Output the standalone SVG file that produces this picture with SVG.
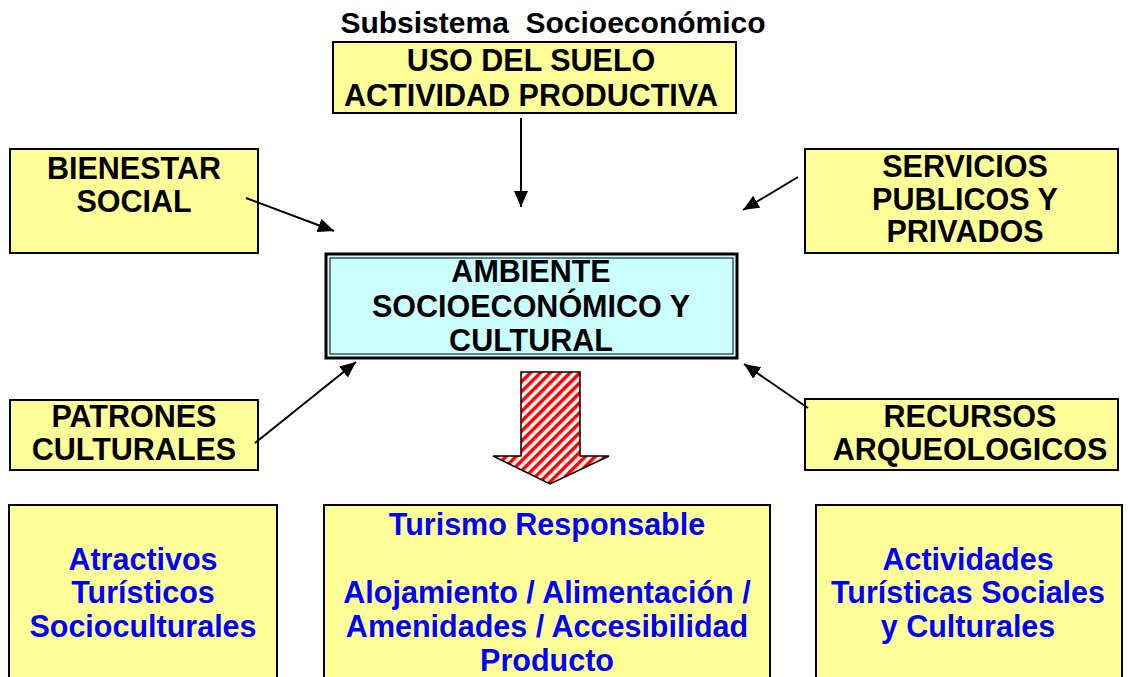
<svg xmlns="http://www.w3.org/2000/svg" width="1128" height="677" viewBox="0 0 1128 677">
<style>
  .box { fill: #FFFF99; stroke: #000; stroke-width: 2; }
  .t { font-family: "Liberation Sans", Arial, sans-serif; font-weight: bold; font-size: 30.5px; text-anchor: middle; fill: #000; }
  .b { fill: #0000FF; }
  .conn line { stroke: #000; stroke-width: 2; }
</style>
<defs>
  <marker id="ah" markerUnits="userSpaceOnUse" markerWidth="18" markerHeight="14" refX="16" refY="7" orient="auto">
    <path d="M0,0 L16,7 L0,14 Z" fill="#000"/>
  </marker>
  <pattern id="stripes" patternUnits="userSpaceOnUse" width="7" height="7" patternTransform="rotate(45)">
    <rect x="0" y="0" width="7" height="7" fill="#fff"/>
    <rect x="0" y="0" width="3.5" height="7" fill="#FF0000"/>
  </pattern>
</defs>

<text class="t" x="553" y="33" style="font-size:30px; white-space:pre" xml:space="preserve">Subsistema  Socioeconómico</text>

<g id="uso">
  <rect class="box" x="333" y="42" width="403" height="71"/>
  <text class="t" x="531" y="71">USO DEL SUELO</text>
  <text class="t" x="531" y="106">ACTIVIDAD PRODUCTIVA</text>
</g>

<g id="bienestar">
  <rect class="box" x="10" y="149" width="248" height="104"/>
  <text class="t" x="134" y="179">BIENESTAR</text>
  <text class="t" x="134" y="212">SOCIAL</text>
</g>

<g id="servicios">
  <rect class="box" x="805" y="149" width="313" height="104"/>
  <text class="t" x="965" y="177">SERVICIOS</text>
  <text class="t" x="965" y="210">PUBLICOS Y</text>
  <text class="t" x="965" y="242">PRIVADOS</text>
</g>

<g id="ambiente">
  <rect x="326" y="254" width="411" height="104" fill="#CCFFFF" stroke="#000" stroke-width="3"/>
  <rect x="330" y="258" width="403" height="96" fill="none" stroke="#000" stroke-width="1"/>
  <text class="t" x="531" y="282">AMBIENTE</text>
  <text class="t" x="531" y="317">SOCIOECONÓMICO Y</text>
  <text class="t" x="531" y="351">CULTURAL</text>
</g>

<g id="flecha">
  <path d="M521,372 L580,372 L580,456 L609,456 L550,484 L493,456 L521,456 Z" fill="url(#stripes)" stroke="#000" stroke-width="1.5"/>
</g>

<g id="patrones">
  <rect class="box" x="10" y="400" width="248" height="70"/>
  <text class="t" x="134" y="427">PATRONES</text>
  <text class="t" x="134" y="460">CULTURALES</text>
</g>

<g id="recursos">
  <rect class="box" x="805" y="399" width="313" height="71"/>
  <text class="t" x="970" y="427">RECURSOS</text>
  <text class="t" x="970" y="460">ARQUEOLOGICOS</text>
</g>

<g id="atractivos">
  <rect class="box" x="9" y="505" width="268" height="185"/>
  <text class="t b" x="143" y="570">Atractivos</text>
  <text class="t b" x="143" y="603">Turísticos</text>
  <text class="t b" x="143" y="637">Socioculturales</text>
</g>

<g id="turismo">
  <rect class="box" x="324" y="505" width="446" height="185"/>
  <text class="t b" x="547" y="535">Turismo Responsable</text>
  <text class="t b" x="547" y="603">Alojamiento / Alimentación /</text>
  <text class="t b" x="547" y="637">Amenidades / Accesibilidad</text>
  <text class="t b" x="547" y="671">Producto</text>
</g>

<g id="actividades">
  <rect class="box" x="816" y="505" width="306" height="185"/>
  <text class="t b" x="968" y="570">Actividades</text>
  <text class="t b" x="968" y="603">Turísticas Sociales</text>
  <text class="t b" x="968" y="637">y Culturales</text>
</g>

<g id="connectors" class="conn">
  <line x1="521" y1="118" x2="521" y2="207" marker-end="url(#ah)"/>
  <line x1="246" y1="198" x2="334" y2="231" marker-end="url(#ah)"/>
  <line x1="798" y1="177" x2="743" y2="210" marker-end="url(#ah)"/>
  <line x1="255" y1="443" x2="356" y2="362" marker-end="url(#ah)"/>
  <line x1="808" y1="408" x2="744" y2="364" marker-end="url(#ah)"/>
</g>
</svg>
